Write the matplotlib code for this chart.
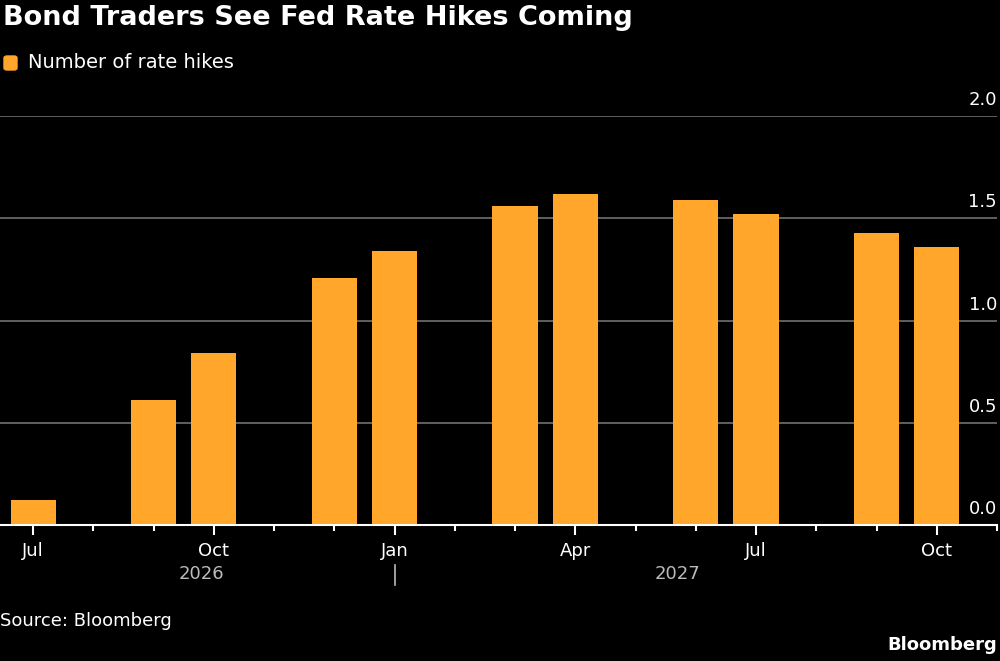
import matplotlib as mpl
mpl.use('Agg')
import matplotlib.pyplot as plt
from matplotlib.patches import FancyBboxPatch

# data
months = ['2026-07', '2026-09', '2026-10', '2026-12', '2027-01', '2027-03',
          '2027-04', '2027-06', '2027-07', '2027-09', '2027-10']
hikes = [0.12, 0.61, 0.84, 1.21, 1.34, 1.56, 1.62, 1.59, 1.52, 1.43, 1.36]
tick_months = ['2026-07', '2026-10', '2027-01', '2027-04', '2027-07', '2027-10']
tick_labels = ['Jul', 'Oct', 'Jan', 'Apr', 'Jul', 'Oct']
y_ticks = [0.0, 0.5, 1.0, 1.5, 2.0]
years = ['2026', '2027']


def month_index(s, start='2026-07'):
    y, m = map(int, s.split('-'))
    y0, m0 = map(int, start.split('-'))
    return (y - y0) * 12 + (m - m0)


orange = '#ffa62b'
bg = '#000000'

fig = plt.figure(figsize=(10, 6.61), dpi=100, facecolor=bg)
ax = fig.add_axes([0.0, 1 - 525 / 661, 0.997, (525 - 116) / 661], facecolor=bg)

x = [month_index(m) for m in months]
ax.bar(x, hikes, width=0.75, color=orange, zorder=2)

ax.set_xlim(-0.55, 16.0)
ax.set_ylim(0, 2.0)

# grid + right-side labels sitting above the lines
for v in y_ticks[1:]:
    ax.axhline(v, color='#707070', lw=1.2, zorder=1)
for v in y_ticks:
    ax.annotate(f'{v:.1f}', xy=(1.0, v), xycoords=ax.get_yaxis_transform(),
                xytext=(0, 5), textcoords='offset points',
                ha='right', va='bottom', color='white', fontsize=13)
ax.set_yticks([])

for s in ['top', 'right', 'left']:
    ax.spines[s].set_visible(False)
ax.spines['bottom'].set_color('white')
ax.spines['bottom'].set_linewidth(1.5)
ax.spines['bottom'].set_zorder(3)

ax.set_xticks([month_index(m) for m in tick_months])
ax.set_xticklabels(tick_labels)
ax.set_xticks(range(0, 17), minor=True)
ax.tick_params(axis='x', which='major', length=7, width=1.5, color='white',
               labelcolor='white', labelsize=13, pad=5)
ax.tick_params(axis='x', which='minor', length=4, width=1.5, color='white')

# year labels under the month labels
trans = ax.get_xaxis_transform()
ax.text(2.8, -0.12, years[0], transform=trans, ha='center', va='center',
        color='#bbbbbb', fontsize=13)
ax.text(10.7, -0.12, years[1], transform=trans, ha='center', va='center',
        color='#bbbbbb', fontsize=13)
ax.plot([6, 6], [-0.098, -0.146], transform=trans, color='#bbbbbb', lw=1.2,
        clip_on=False)

# title, legend, footer
fig.text(0.003, 1 - 18 / 661, 'Bond Traders See Fed Rate Hikes Coming',
         ha='left', va='center', color='white', fontsize=19.5, fontweight='heavy')
fig.patches.append(FancyBboxPatch((0.004, 1 - 70 / 661), 0.013, 14 / 661,
                                  boxstyle='round,pad=0,rounding_size=0.003',
                                  transform=fig.transFigure, color=orange))
fig.text(0.028, 1 - 63 / 661, 'Number of rate hikes', ha='left', va='center',
         color='white', fontsize=14)
fig.text(0.0, 1 - 621 / 661, 'Source: Bloomberg', ha='left', va='center',
         color='white', fontsize=13)
fig.text(0.997, 1 - 645 / 661, 'Bloomberg', ha='right', va='center',
         color='white', fontsize=13, fontweight='bold')

fig.savefig('out.png', dpi=100, facecolor=bg)
